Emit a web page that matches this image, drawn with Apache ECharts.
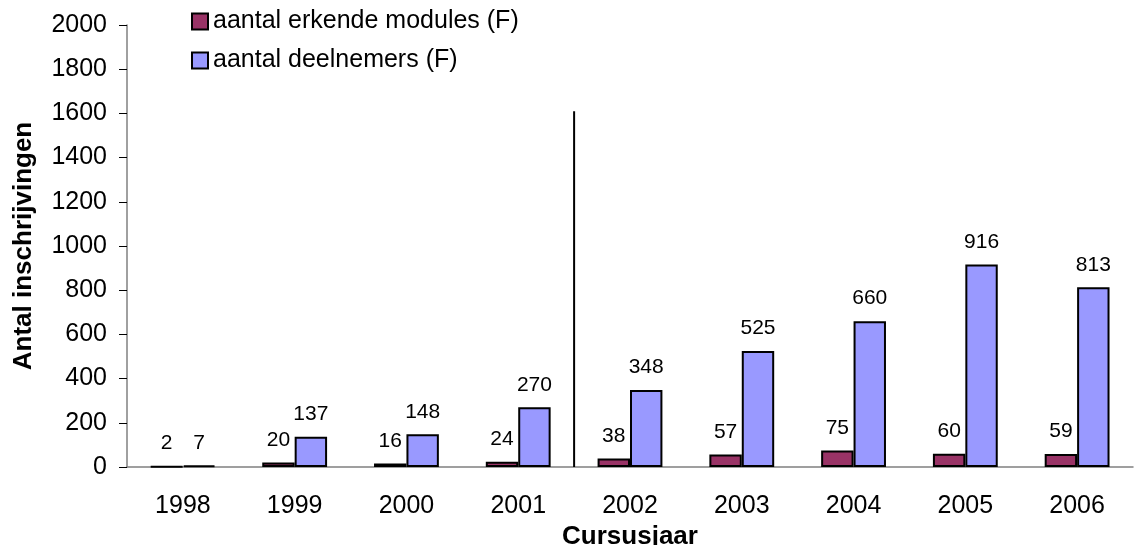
<!DOCTYPE html>
<html>
<head>
<meta charset="utf-8">
<script src="https://cdn.jsdelivr.net/npm/echarts@6/dist/echarts.min.js"></script>
<style>
  html, body { margin: 0; padding: 0; background: #fff; }
  #chart { width: 1136px; height: 545px; }
</style>
</head>
<body>
<div id="chart"></div>
<script>
const years = ['1998', '1999', '2000', '2001', '2002', '2003', '2004', '2005', '2006']
const modules = [2, 20, 16, 24, 38, 57, 75, 60, 59]
const participants = [7, 137, 148, 270, 348, 525, 660, 916, 813]
// vertical separator between 2001 and 2002 (category boundary index, top value)
const dividerAt = 4
const dividerTop = 1610

const font = '"Liberation Sans", Arial, sans-serif'

const chart = echarts.init(document.getElementById('chart'))

const labelStyle = {
  show: true,
  position: 'top',
  distance: 12,
  color: '#000',
  fontFamily: font,
  fontSize: 21
}

chart.setOption({
  animation: false,
  textStyle: { fontFamily: font },
  legend: {
    orient: 'vertical',
    left: 186,
    top: 4,
    itemWidth: 16,
    itemHeight: 16,
    itemGap: 14,
    icon: 'rect',
    data: ['aantal erkende modules (F)', 'aantal deelnemers (F)'],
    itemStyle: { borderColor: '#000', borderWidth: 2 },
    textStyle: { fontSize: 25, color: '#000', fontFamily: font }
  },
  grid: { left: 127, right: 3, top: 25, bottom: 78, outerBoundsMode: 'none', containLabel: false },
  xAxis: [
    {
      type: 'category',
      data: years,
      name: 'Cursusjaar',
      nameLocation: 'middle',
      nameGap: 49,
      nameTextStyle: { fontSize: 26, fontWeight: 'bold', color: '#000' },
      axisLine: { lineStyle: { color: '#808080', width: 1.5 } },
      axisTick: { length: 8, lineStyle: { color: '#000' } },
      axisLabel: { fontSize: 25, color: '#000', margin: 27 }
    },
    {
      type: 'value',
      min: 0,
      max: 9,
      show: false
    }
  ],
  yAxis: {
    type: 'value',
    min: 0,
    max: 2000,
    interval: 200,
    name: 'Antal inschrijvingen',
    nameLocation: 'middle',
    nameRotate: 90,
    nameGap: 90,
    nameTextStyle: { fontSize: 26, fontWeight: 'bold', color: '#000' },
    axisLine: { show: true, lineStyle: { color: '#808080', width: 1.5 } },
    axisTick: { show: true, length: 8, lineStyle: { color: '#000' } },
    axisLabel: { fontSize: 25, color: '#000', margin: 20, formatter: v => String(v) },
    splitLine: { show: false }
  },
  series: [
    {
      name: 'aantal erkende modules (F)',
      type: 'bar',
      data: modules,
      barWidth: '29%',
      barGap: '0%',
      itemStyle: { color: '#993366', borderColor: '#000', borderWidth: 2 },
      label: labelStyle
    },
    {
      name: 'aantal deelnemers (F)',
      type: 'bar',
      data: participants,
      barWidth: '29%',
      barGap: '0%',
      itemStyle: { color: '#9999FF', borderColor: '#000', borderWidth: 2 },
      label: labelStyle
    },
    {
      type: 'line',
      xAxisIndex: 1,
      data: [[dividerAt, 0], [dividerAt, dividerTop]],
      symbol: 'none',
      lineStyle: { color: '#000', width: 2 },
      silent: true,
      z: 5
    }
  ]
})
</script>
</body>
</html>
